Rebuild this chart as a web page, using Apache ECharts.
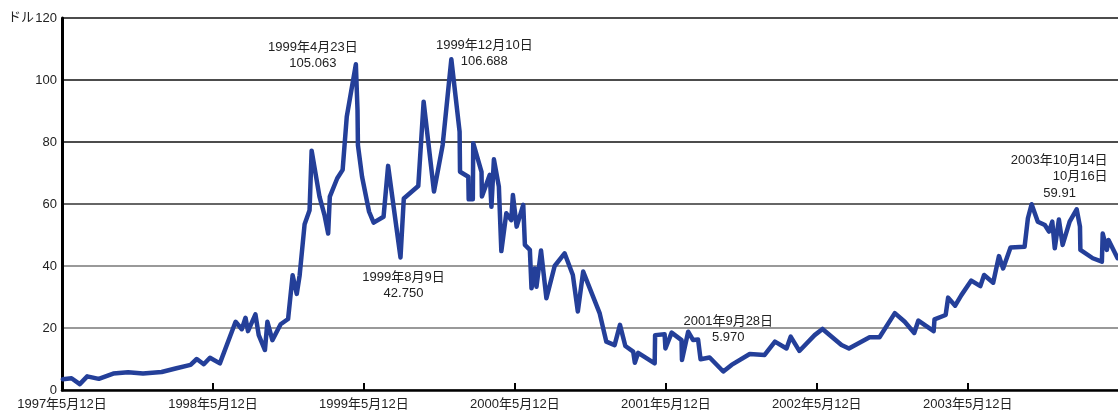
<!DOCTYPE html>
<html><head><meta charset="utf-8">
<script src="https://cdn.jsdelivr.net/npm/echarts@6/dist/echarts.min.js"></script>
<style>html,body{margin:0;padding:0;background:#fff}#c{width:1118px;height:413px}</style>
</head><body><div id="c"></div>
<script>
const startDate = '1997-05-12';
const endDate = '2004-05-10';
const yearTickStart = 1997;
const yTicks = [0, 20, 40, 60, 80, 100, 120];
const unitLabel = 'ドル';

const dates = [
'1997-05-14','1997-06-04','1997-06-24','1997-07-12','1997-08-09','1997-09-13','1997-10-19','1997-11-24',
'1998-01-08','1998-02-13','1998-03-19','1998-04-03','1998-04-20','1998-05-05','1998-05-29','1998-07-06',
'1998-07-21','1998-07-30','1998-08-05','1998-08-23','1998-08-31','1998-09-15','1998-09-21','1998-10-03',
'1998-10-23','1998-11-10','1998-11-21','1998-12-01','1998-12-08','1998-12-20','1999-01-01','1999-01-06',
'1999-01-25','1999-02-06','1999-02-15','1999-02-19','1999-03-09','1999-03-22','1999-04-01','1999-04-23',
'1999-04-27','1999-04-28','1999-05-08','1999-05-25','1999-06-05','1999-06-29','1999-07-10','1999-08-09',
'1999-08-17','1999-09-21','1999-10-04','1999-10-29','1999-11-19','1999-12-10','1999-12-30','1999-12-31',
'2000-01-20','2000-01-21','2000-01-31','2000-02-01','2000-02-21','2000-02-22','2000-03-12','2000-03-16',
'2000-03-22','2000-04-03','2000-04-09','2000-04-21','2000-05-03','2000-05-07','2000-05-16','2000-06-01',
'2000-06-05','2000-06-17','2000-06-21','2000-06-29','2000-07-03','2000-07-14','2000-07-27','2000-08-16',
'2000-09-09','2000-09-29','2000-10-11','2000-10-24','2000-12-03','2000-12-19','2001-01-08','2001-01-21',
'2001-02-03','2001-02-22','2001-02-26','2001-03-06','2001-04-15','2001-04-16','2001-05-09','2001-05-11',
'2001-05-26','2001-06-19','2001-06-20','2001-07-05','2001-07-17','2001-07-29','2001-08-04','2001-08-26',
'2001-09-28','2001-10-18','2001-12-01','2002-01-06','2002-01-31','2002-02-28','2002-03-10','2002-03-31',
'2002-05-07','2002-05-26','2002-07-11','2002-07-29','2002-09-17','2002-10-11','2002-11-17','2002-12-11',
'2003-01-03','2003-01-13','2003-02-19','2003-02-21','2003-03-20','2003-03-26','2003-04-12','2003-04-27',
'2003-05-21','2003-06-12','2003-06-21','2003-07-13','2003-07-27','2003-08-06','2003-08-24','2003-09-27',
'2003-10-05','2003-10-14','2003-10-29','2003-11-15','2003-11-25','2003-12-03','2003-12-09','2003-12-19',
'2003-12-28','2004-01-14','2004-01-31','2004-02-08','2004-02-09','2004-03-10','2004-04-01','2004-04-03',
'2004-04-13','2004-04-17','2004-05-09'
];
const prices = [
3.45,3.8,1.9,4.4,3.6,5.3,5.7,5.3,
5.8,7.0,8.1,10,8.3,10.4,8.6,22,
19.6,23.3,19,24.4,17.7,12.9,22,16.1,
21.2,22.9,37,31,37,53.5,58,77.2,
62.4,56.5,50.5,62.4,68.3,71,88.2,105.063,
90.3,79,68.8,57.5,54,55.9,72.3,42.75,
61.8,65.8,93,64,79,106.688,83.3,70.4,
68.8,61.5,61.5,79.6,70.4,62.4,69.4,59.1,
74.4,65.6,44.8,57,54.8,62.9,52.7,59.7,
46.8,45.2,32.8,39.2,33.3,45,29.6,40,
44.1,37.1,25.3,38.2,24.7,15.6,14.5,21,
14.2,12.4,8.8,12,8.6,17.7,18,13.4,
18.5,16.1,9.7,18.8,16.1,16.3,9.9,10.5,
5.97,8.1,11.6,11.3,15.6,13.4,17.2,12.6,
17.7,19.7,14.5,13.4,17,17,24.8,22,
18.4,22.4,19,22.8,24.2,29.8,27.2,30.6,
35.3,33.5,37.1,34.6,43.2,39.2,46,46.2,
55.4,59.91,54.3,53.2,51.1,54.3,45.7,55,
46.8,54.3,58.3,52.7,45.2,42.5,41.4,50.5,
45.2,48.4,42.5
];

// annotations: [date, value, text, offsetX, offsetY, align]
const notes = [
  ['1999-04-23', 105.063, '1999年4月23日\n105.063', -43, -9, 'center'],
  ['1999-12-10', 106.688, '1999年12月10日\n106.688', 33, -6, 'center'],
  ['1999-08-09', 42.75, '1999年8月9日\n42.750', 3, 28, 'center'],
  ['2001-09-28', 5.97, '2001年9月28日\n5.970', 5, -42, 'center'],
  ['2003-10-14', 59.91, '2003年10月14日\n10月16日', 76, -36, 'right'],
  ['2003-10-14', 59.91, '59.91', 28, -11, 'center']
];

const DAY = 86400000, YEAR = 365.25 * DAY;
const t0 = Date.parse(startDate);
const toYears = d => (Date.parse(d) - t0) / YEAR;
const seriesData = dates.map((d, i) => [toYears(d), prices[i]]);
const xMax = toYears(endDate);
const FONT = '"Liberation Sans", Arial, "Noto Sans CJK JP", sans-serif';

const chart = echarts.init(document.getElementById('c'), null, {renderer: 'canvas'});
chart.setOption({
  animation: false,
  backgroundColor: '#fff',
  textStyle: {fontFamily: FONT},
  grid: {left: 62, right: 0, top: 18, bottom: 23, containLabel: false},
  xAxis: {
    type: 'value', min: 0, max: xMax, interval: 1,
    axisLine: {show: true, onZero: false, lineStyle: {color: '#000', width: 2.5}},
    axisTick: {show: true, inside: true, length: 7, lineStyle: {color: '#000', width: 2}},
    axisLabel: {
      show: true, margin: 8, fontSize: 13, color: '#222', fontFamily: FONT,
      showMaxLabel: false,
      formatter: v => (Math.abs(v - Math.round(v)) < 1e-6) ? (yearTickStart + Math.round(v)) + '年5月12日' : ''
    },
    splitLine: {show: false}
  },
  yAxis: {
    type: 'value', min: yTicks[0], max: yTicks[yTicks.length - 1], interval: yTicks[1] - yTicks[0],
    axisLine: {show: true, lineStyle: {color: '#000', width: 3}},
    axisTick: {show: false},
    axisLabel: {margin: 5, fontSize: 13, color: '#222', fontFamily: FONT},
    splitLine: {show: true, lineStyle: {width: 1.5, color: ['#777', '#777', '#777', '#333', '#111', '#111', '#111']}}
  },
  graphic: [{
    type: 'text', left: 8, top: 11,
    style: {text: unitLabel, font: '13px ' + FONT, fill: '#222'}
  }],
  series: [{
    type: 'line',
    data: seriesData,
    showSymbol: false,
    symbol: 'none',
    lineStyle: {color: '#243f99', width: 4.5, join: 'round', cap: 'round'},
    z: 3,
    markPoint: {
      symbol: 'circle', symbolSize: 0,
      silent: true,
      data: notes.map(n => ({
        coord: [toYears(n[0]), n[1]],
        label: {
          show: true, position: 'inside', offset: [n[3], n[4]],
          align: n[5], verticalAlign: 'middle',
          formatter: n[2], fontSize: 13, lineHeight: 16, color: '#222', fontFamily: FONT
        }
      }))
    }
  }]
});
</script>
</body></html>
